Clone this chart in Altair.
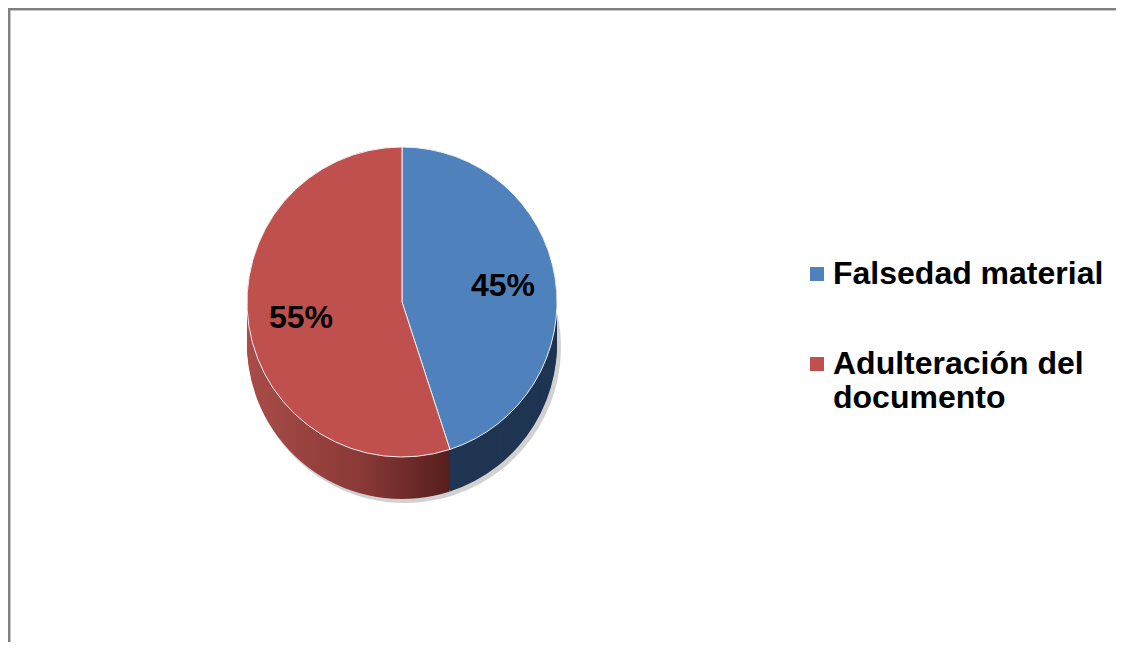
import altair as alt
import pandas as pd

# ---- data ----
categories = ["Falsedad material", "Adulteración del documento"]
values = [45, 55]
labels = ["45%", "55%"]
order_idx = [0, 1]

df = pd.DataFrame({"categoria": categories, "valor": values,
                   "etiqueta": labels, "orden": order_idx})

# ---- layout / style ----
W, H = 1108, 634
CX, CY, R, DEPTH = 394, 294, 155, 42
FONT = "Liberation Sans"
top_colors = ["#4F81BD", "#C0504D"]

base = alt.Chart(df).encode(
    theta=alt.Theta("valor:Q", stack=True),
    order=alt.Order("orden:Q"),
)

red_side = alt.Gradient(
    gradient="linear", x1=0, x2=1, y1=0, y2=0,
    stops=[alt.GradientStop(color="#A84D49", offset=0),
           alt.GradientStop(color="#8B3A37", offset=0.55),
           alt.GradientStop(color="#561F1E", offset=1)],
)

# soft shadow under the pie
shadow = base.mark_arc(outerRadius=R + 1, opacity=0.18, color="#000000").encode(
    x=alt.value(CX + 3), y=alt.value(CY + DEPTH + 3)
)

side_layers = []
for k in range(DEPTH, 0, -2):
    side_layers.append(
        base.mark_arc(outerRadius=R, strokeWidth=0).encode(
            x=alt.value(CX), y=alt.value(CY + k),
            fill=alt.condition(alt.datum.categoria == categories[0],
                               alt.value("#1F3552"), alt.value(red_side)),
        )
    )

top = base.mark_arc(outerRadius=R, stroke="#EEEEEE", strokeWidth=1).encode(
    x=alt.value(CX), y=alt.value(CY),
    color=alt.Color(
        "categoria:N",
        scale=alt.Scale(domain=categories, range=top_colors),
        legend=alt.Legend(
            title=None, orient="none", legendX=793, legendY=250,
            symbolType="square", symbolSize=196, symbolStrokeWidth=0,
            labelFont=FONT, labelFontSize=32, labelFontWeight="bold",
            labelColor="black", labelOffset=0, labelLimit=500,
            rowPadding=58,
            labelExpr="datum.label == 'Adulteración del documento' ? ['Adulteración del', 'documento'] : datum.label",
        ),
    ),
)

text = base.mark_text(radius=R * 0.66, font=FONT, fontSize=32,
                      fontWeight="bold", color="black").encode(
    x=alt.value(CX), y=alt.value(CY), text="etiqueta:N"
)

border_top = alt.Chart(df).mark_rule(color="#808080", strokeWidth=2.5).encode(
    x=alt.value(0), x2=alt.value(W + 20), y=alt.value(1)
)
border_left = alt.Chart(df).mark_rule(color="#808080", strokeWidth=2.5).encode(
    x=alt.value(1), y=alt.value(0), y2=alt.value(H + 20)
)

chart = alt.layer(
    border_top, border_left, shadow, *side_layers, top, text
).properties(
    width=W, height=H, padding=0,
    autosize=alt.AutoSizeParams(type="none"),
).configure_view(stroke=None)

chart.save("out.html", embed_options={"renderer": "svg", "actions": False})
